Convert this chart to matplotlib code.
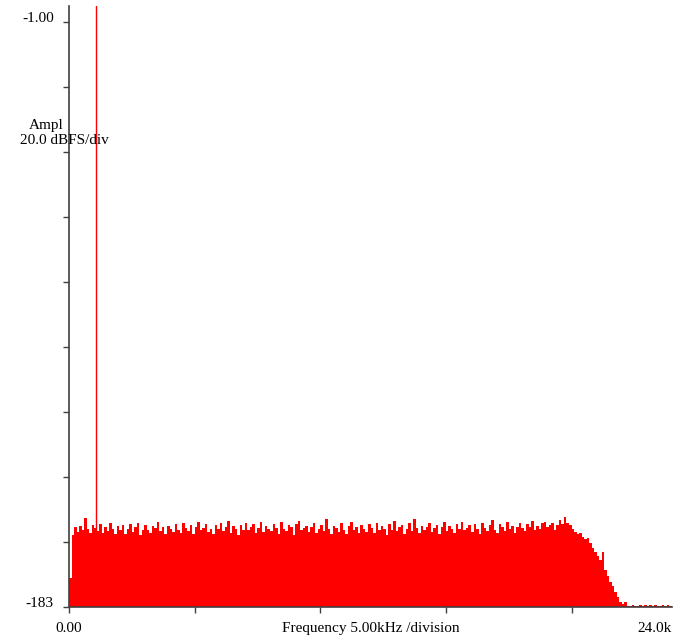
import numpy as np
import matplotlib.pyplot as plt

plt.rcParams['font.family'] = ['Liberation Serif', 'DejaVu Serif']

# noise floor, one value per 100 Hz bin (dBFS)
freqs = np.arange(0, 24000, 100)
levels = np.array([
    -174.0, -160.5, -158.2, -159.6, -157.9, -159.1, -155.2, -158.8, -159.9, -157.6,
    -158.3, -159.4, -157.2, -160.1, -158.0, -159.3, -156.9, -158.7, -160.4, -157.8,
    -159.0, -157.4, -160.2, -158.6, -157.1, -159.8, -158.2, -156.8, -160.6, -158.9,
    -157.5, -159.2, -160.0, -157.9, -158.4, -156.6, -159.5, -158.1, -160.3, -157.7,
    -158.6, -159.7, -157.3, -158.9, -160.1, -156.9, -158.5, -159.3, -157.6, -160.2,
    -158.0, -156.5, -159.1, -158.3, -157.2, -159.8, -158.7, -160.4, -157.5, -158.8,
    -157.0, -159.4, -158.2, -156.3, -159.9, -157.8, -158.6, -160.5, -157.4, -158.9,
    -156.8, -159.2, -158.1, -157.3, -160.0, -158.4, -156.6, -159.6, -157.9, -158.7,
    -159.5, -157.1, -158.3, -160.2, -156.7, -158.8, -159.4, -157.6, -158.1, -160.6,
    -157.2, -156.4, -159.0, -158.5, -157.8, -159.7, -158.2, -156.9, -160.1, -158.6,
    -157.5, -159.3, -155.6, -158.7, -160.3, -157.9, -158.4, -159.8, -157.0, -158.9,
    -160.4, -157.7, -156.6, -159.1, -158.2, -160.0, -157.4, -158.8, -159.6, -157.2,
    -158.3, -160.1, -156.8, -159.2, -157.7, -158.6, -160.5, -157.3, -158.9, -156.4,
    -159.5, -158.1, -157.6, -160.2, -158.7, -157.0, -159.3, -155.5, -158.4, -160.0,
    -157.8, -159.0, -158.2, -156.9, -159.7, -158.5, -157.4, -160.3, -158.0, -156.6,
    -159.4, -157.9, -158.8, -160.1, -157.2, -158.6, -156.5, -159.2, -158.3, -157.6,
    -159.8, -157.1, -158.7, -160.2, -156.8, -158.4, -159.5, -157.5, -155.8, -158.9,
    -160.0, -157.3, -158.1, -159.3, -156.7, -158.6, -157.8, -159.9, -158.2, -156.9,
    -158.5, -159.4, -157.2, -158.0, -156.3, -159.1, -157.7, -158.6, -157.0, -156.5,
    -158.2, -157.4, -156.8, -158.9, -157.5, -155.9, -157.3, -154.9, -156.8, -157.6,
    -158.8, -159.6, -160.3, -159.9, -161.2, -162.0, -161.5, -163.1, -164.6, -165.9,
    -167.2, -168.4, -166.0, -171.4, -173.5, -175.2, -176.6, -178.3, -179.8, -181.4,
    -182.2, -181.5, -182.6, -182.7, -182.4, -182.6, -182.7, -182.5, -182.6, -182.3,
    -182.7, -182.5, -182.6, -182.4, -182.7, -182.6, -182.5, -182.7, -182.4, -182.6,
])

tone_freq = 1070
tone_level = 5.0

y_min, y_max = -183, -1
x_max = 24000

fig = plt.figure(figsize=(6.91, 6.35), dpi=100)
ax = fig.add_axes([69 / 691, 28 / 635, 603 / 691, 601 / 635])

# step fill so adjacent bins don't leave hairline gaps
edges = np.append(freqs, x_max)
vals = np.append(levels, levels[-1])
ax.fill_between(edges, vals, y_min, step='post', color='#ff0000', lw=0)
ax.vlines(tone_freq, y_min, tone_level, color='#ff0000', lw=1)

ax.set_xlim(0, x_max)
ax.set_ylim(y_min, 3.9)

ax.spines['top'].set_visible(False)
ax.spines['right'].set_visible(False)
for s in ['left', 'bottom']:
    ax.spines[s].set_color('#404040')
    ax.spines[s].set_linewidth(1.2)

yt = np.linspace(y_min, y_max, 10)
ax.set_yticks(yt)
ax.set_yticklabels(['-183'] + [''] * 8 + ['-1.00'])
for lab in ax.get_yticklabels():
    lab.set_verticalalignment('baseline')
ax.set_xticks(np.arange(0, 20001, 5000))
ax.set_xticklabels([])
ax.tick_params(axis='both', length=4, color='#404040', width=1, labelsize=11)
ax.tick_params(axis='y', pad=7)

xt = ax.get_xaxis_transform()
ax.text(0, -0.025, '0.00', transform=xt, ha='center', va='top', fontsize=11)
ax.text(12000, -0.025, 'Frequency 5.00kHz /division', transform=xt,
        ha='center', va='top', fontsize=11)
ax.text(x_max, -0.025, '24.0k', transform=xt, ha='right', va='top', fontsize=11)

fig.text(64 / 691, 1 - 125 / 635, 'Ampl', ha='right', va='center', fontsize=11)
fig.text(20 / 691, 1 - 141 / 635, '20.0 dBFS/div', ha='left', va='center', fontsize=11)

fig.savefig('out.png', dpi=100)
